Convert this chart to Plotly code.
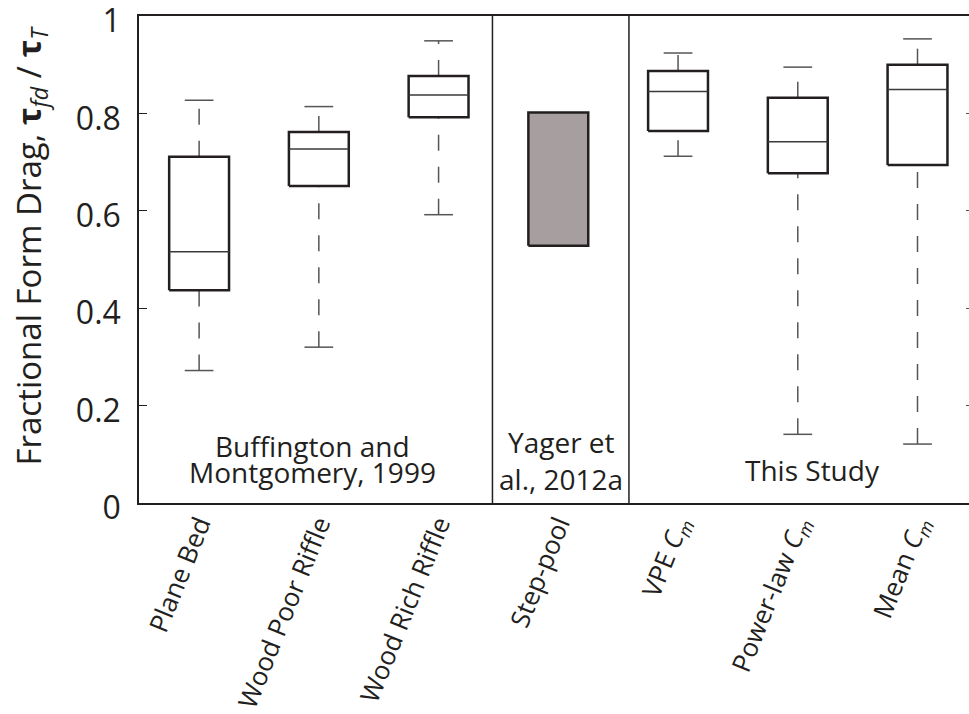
import plotly.graph_objects as go

# ---- data ----
categories = ["Plane Bed", "Wood Poor Riffle", "Wood Rich Riffle", "Step-pool",
              "VPE <i>C</i><sub><i>m</i></sub>", "Power-law <i>C</i><sub><i>m</i></sub>",
              "Mean <i>C</i><sub><i>m</i></sub>"]
positions = [1, 2, 3, 4, 5, 6, 7]
lower_whisker = [0.272, 0.320, 0.592, None, 0.712, 0.141, 0.121]
q1 = [0.437, 0.651, 0.792, 0.528, 0.764, 0.677, 0.694]
median = [0.516, 0.727, 0.838, None, 0.845, 0.742, 0.849]
q3 = [0.711, 0.762, 0.877, 0.802, 0.887, 0.832, 0.900]
upper_whisker = [0.827, 0.814, 0.949, None, 0.924, 0.895, 0.953]
fill_colors = ["white", "white", "white", "#A69E9F", "white", "white", "white"]

group_bounds = [3.45, 4.59]
y_ticks = [0, 0.2, 0.4, 0.6, 0.8, 1.0]
y_tick_text = ["0", "0.2", "0.4", "0.6", "0.8", "1"]

BOX_HALF = 0.25
CAP_HALF = 0.12
FONT = "Open Sans"
BOX_COLOR = "#231f20"
WHISK_COLOR = "#555555"

fig = go.Figure()

for i, p in enumerate(positions):
    # whiskers (dashed), drawn bottom to top
    if lower_whisker[i] is not None:
        fig.add_trace(go.Scatter(x=[p, p], y=[lower_whisker[i], q1[i]], mode="lines",
                                 line=dict(color=WHISK_COLOR, width=1.5, dash="16px,16px"),
                                 hoverinfo="skip", showlegend=False))
        fig.add_trace(go.Scatter(x=[p - CAP_HALF, p + CAP_HALF], y=[lower_whisker[i]] * 2,
                                 mode="lines", line=dict(color=WHISK_COLOR, width=1.5),
                                 hoverinfo="skip", showlegend=False))
    if upper_whisker[i] is not None:
        fig.add_trace(go.Scatter(x=[p, p], y=[q3[i], upper_whisker[i]], mode="lines",
                                 line=dict(color=WHISK_COLOR, width=1.5, dash="16px,16px"),
                                 hoverinfo="skip", showlegend=False))
        fig.add_trace(go.Scatter(x=[p - CAP_HALF, p + CAP_HALF], y=[upper_whisker[i]] * 2,
                                 mode="lines", line=dict(color=WHISK_COLOR, width=1.5),
                                 hoverinfo="skip", showlegend=False))
    # box
    fig.add_trace(go.Scatter(
        x=[p - BOX_HALF, p + BOX_HALF, p + BOX_HALF, p - BOX_HALF, p - BOX_HALF],
        y=[q1[i], q1[i], q3[i], q3[i], q1[i]],
        mode="lines", fill="toself", fillcolor=fill_colors[i],
        line=dict(color=BOX_COLOR, width=2.5), hoverinfo="skip", showlegend=False))
    if median[i] is not None:
        fig.add_trace(go.Scatter(x=[p - BOX_HALF, p + BOX_HALF], y=[median[i]] * 2,
                                 mode="lines", line=dict(color="#3a3a3a", width=1.5),
                                 hoverinfo="skip", showlegend=False))

# dummy trace on the right y axis so the mirrored ticks render
fig.add_trace(go.Scatter(x=[positions[0]], y=[q1[0]], yaxis="y2", mode="markers",
                         marker=dict(opacity=0), hoverinfo="skip", showlegend=False))

for b in group_bounds:
    fig.add_shape(type="line", xref="x", yref="paper", x0=b, x1=b, y0=0, y1=1,
                  line=dict(color=BOX_COLOR, width=1.5))

ann_font = dict(family=FONT, size=28, color="#231f20")
group_labels = [
    ("Buffington and", 1.95, 0.118),
    ("Montgomery, 1999", 1.95, 0.0646),
    ("Yager et", 4.024, 0.126),
    ("al., 2012a", 4.024, 0.050),
    ("This Study", 6.125, 0.067),
]
for txt, x, y in group_labels:
    fig.add_annotation(text=txt, x=x, y=y, xref="x", yref="y", showarrow=False,
                       xanchor="center", yanchor="middle", font=ann_font)

# y-axis title
fig.add_annotation(text="Fractional Form Drag, <b>τ</b><sub><i>fd</i></sub> / <b>τ</b><sub><i>T</i></sub>",
                   xref="paper", yref="paper", x=-0.1305, y=0.528, textangle=-90,
                   showarrow=False, xanchor="center", yanchor="middle",
                   font=dict(family=FONT, size=33, color="#231f20"))

fig.update_layout(
    width=969, height=714,
    margin=dict(l=139, r=0, t=16, b=211, autoexpand=False),
    paper_bgcolor="white", plot_bgcolor="white",
    xaxis=dict(range=[0.498, 7.43], tickmode="array", tickvals=positions,
               ticktext=categories, tickangle=-68, ticks="",
               tickfont=dict(family=FONT, size=26, color="#231f20"),
               ticklabelstandoff=-6,
               showline=True, linecolor=BOX_COLOR, linewidth=1.5, mirror=True,
               showgrid=False, zeroline=False, automargin=False),
    yaxis=dict(range=[0, 1], tickmode="array", tickvals=y_ticks, ticktext=y_tick_text,
               ticks="inside", ticklen=8, tickwidth=1.2, tickcolor=BOX_COLOR,
               tickfont=dict(family=FONT, size=32, color="#231f20"),
               ticklabelstandoff=10, ticklabeloverflow="allow", ticklabelshift=5,
               showline=True, linecolor=BOX_COLOR, linewidth=1.5,
               showgrid=False, zeroline=False, automargin=False),
    yaxis2=dict(range=[0, 1], overlaying="y", side="right", tickmode="array",
                tickvals=y_ticks, ticks="inside", ticklen=3, tickwidth=1.2,
                tickcolor="#555555", showticklabels=False, showline=False,
                showgrid=False, zeroline=False, automargin=False),
)

fig.write_html("out.html")
